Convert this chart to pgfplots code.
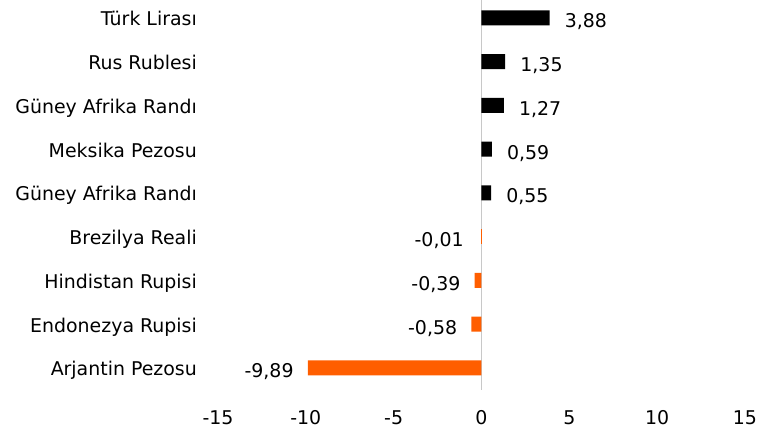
\documentclass[border=0pt]{standalone}
\usepackage{pgfplots}
\pgfplotsset{compat=1.18}
\usepackage{fontspec}
\setmainfont{DejaVu Sans}
\definecolor{orng}{RGB}{255,94,0}
\definecolor{zl}{RGB}{200,200,200}
\newcommand{\lf}{\fontsize{19}{23}\selectfont}
\begin{document}
\begin{tikzpicture}
\useasboundingbox (-218bp,-42.1bp) rectangle (566bp,389.85bp);
\begin{axis}[at={(0,0)}, anchor=south west, scale only axis,
  width=527bp, height=393.75bp,
  xmin=-15, xmax=15, ymin=0.5, ymax=9.5, clip=false,
  axis line style={draw=none}, tick style={draw=none}, major tick length=0pt,
  xtick={-15,-10,-5,0,5,10,15}, xticklabels={-15,-10,-5,0,5,10,15},
  ytick={1,2,3,4,5,6,7,8,9},
  yticklabels={Arjantin Pezosu, Endonezya Rupisi, Hindistan Rupisi, Brezilya Reali, Güney Afrika Randı, Meksika Pezosu, Güney Afrika Randı, Rus Rublesi, Türk Lirası},
  xticklabel style={anchor=base, yshift=-34.5bp, inner sep=0pt, font=\lf},
  yticklabel style={anchor=base east, xshift=-21bp, yshift=-8bp, inner sep=0pt, font=\lf},
  xbar, bar width=15bp, bar shift=0pt,
]
\draw[zl, line width=1.8bp] (axis cs:0,0.5) -- (axis cs:0,9.5);
\addplot[fill=black, draw=none, nodes near coords, point meta=explicit symbolic,
  every node near coord/.append style={anchor=base west, xshift=15bp, yshift=-10bp, inner sep=0pt, font=\lf, text=black}]
  table[x=x, y=y, meta=lab] {
x y lab
3.88 9 3,88
1.35 8 1,35
1.27 7 1,27
0.59 6 0,59
0.55 5 0,55
};
\addplot[fill=orng, draw=none, nodes near coords, point meta=explicit symbolic,
  every node near coord/.append style={anchor=base east, xshift=-14bp, yshift=-10bp, inner sep=0pt, font=\lf, text=black}]
  table[x=x, y=y, meta=lab] {
x y lab
-0.39 3 -0,39
-0.58 2 -0,58
-9.89 1 -9,89
};
\addplot[fill=orng, draw=none, nodes near coords, point meta=explicit symbolic,
  every node near coord/.append style={anchor=base east, xshift=-17.5bp, yshift=-10bp, inner sep=0pt, font=\lf, text=black}]
  table[x=x, y=y, meta=lab] {
x y lab
-0.01 4 -0,01
};
\end{axis}
\end{tikzpicture}
\end{document}
